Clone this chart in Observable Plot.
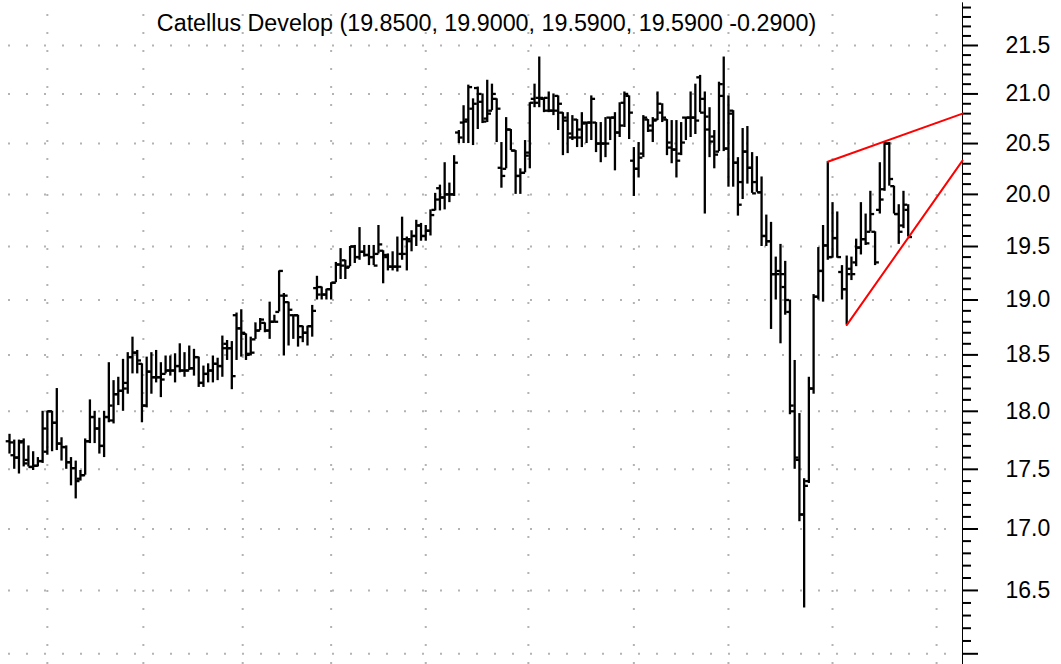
<!DOCTYPE html>
<html><head><meta charset="utf-8">
<script src="https://cdn.jsdelivr.net/npm/d3@7"></script>
<script src="https://cdn.jsdelivr.net/npm/@observablehq/plot@0.6"></script>
<style>
html,body{margin:0;padding:0;background:#fff;}
#chart svg{display:block;}
</style></head><body><div id="chart"></div>
<script>
const title = "Catellus Develop (19.8500, 19.9000, 19.5900, 19.5900 -0.2900)";

const opens = [
17.74,17.62,17.60,17.74,17.58,17.52,17.53,17.57,17.65,18.00,
17.90,17.72,17.69,17.56,17.51,17.42,17.45,17.74,17.95,17.85,
17.70,17.95,17.92,18.15,18.18,18.25,18.48,18.52,18.42,18.05,
18.35,18.30,18.30,18.33,18.36,18.36,18.40,18.36,18.36,18.38,
18.48,18.25,18.33,18.36,18.42,18.40,18.60,18.56,18.86,18.74,
18.69,18.51,18.64,18.72,18.79,18.72,18.80,18.89,19.04,18.98,
18.86,18.86,18.76,18.70,18.76,19.11,19.12,19.05,19.10,19.16,
19.33,19.37,19.31,19.50,19.40,19.45,19.42,19.40,19.43,19.46,
19.40,19.31,19.31,19.43,19.57,19.55,19.60,19.70,19.60,19.65,
19.85,20.06,19.97,20.00,20.00,20.61,20.71,20.74,20.85,21.06,
20.92,20.75,20.83,20.95,20.26,20.25,20.64,20.43,20.18,20.21,
20.41,20.95,20.96,20.95,20.83,20.83,20.98,20.81,20.73,20.56,
20.74,20.56,20.71,20.71,20.71,20.50,20.50,20.76,20.76,20.61,
20.91,20.98,20.33,20.25,20.40,20.74,20.63,20.74,20.81,20.74,
20.46,20.44,20.40,20.76,20.76,20.76,21.17,20.95,20.64,20.57,
20.42,20.98,20.45,20.83,20.31,20.12,20.42,20.26,20.12,20.02,
19.60,19.55,19.24,19.27,19.12,18.89,18.00,17.58,17.12,17.40,
18.20,19.03,19.27,19.51,19.40,19.58,19.26,19.10,19.29,19.35,
19.49,19.57,19.64,19.64,19.85,20.05,20.50,20.08,19.81,19.70,
19.85];

const highs = [
17.80,17.75,17.75,17.76,17.70,17.65,17.60,18.00,18.00,18.00,
18.20,17.77,17.70,17.60,17.57,17.49,17.76,18.10,18.00,17.94,
18.00,18.43,18.27,18.30,18.46,18.52,18.66,18.54,18.42,18.48,
18.52,18.54,18.43,18.49,18.49,18.51,18.60,18.52,18.58,18.55,
18.48,18.40,18.42,18.49,18.47,18.67,18.63,18.62,18.88,18.91,
18.69,18.66,18.79,18.83,18.79,18.98,18.86,19.27,19.06,18.98,
18.86,18.86,18.76,18.76,18.95,19.22,19.12,19.10,19.16,19.35,
19.48,19.37,19.50,19.51,19.68,19.51,19.51,19.51,19.70,19.46,
19.43,19.45,19.59,19.78,19.59,19.65,19.75,19.72,19.70,19.85,
20.01,20.09,20.31,20.11,20.38,20.63,20.88,21.09,20.95,21.07,
21.00,21.14,21.10,20.95,20.51,20.76,20.64,20.43,20.25,20.53,
20.91,21.10,21.38,20.96,21.02,21.00,20.98,20.81,20.81,20.78,
20.74,20.81,20.71,20.98,20.71,20.71,20.76,20.76,20.81,20.91,
21.02,20.98,20.46,20.51,20.78,20.74,20.76,21.02,20.90,20.74,
20.73,20.73,20.71,20.76,21.02,21.10,21.19,21.02,20.86,20.63,
21.12,21.38,20.98,20.83,20.36,20.65,20.67,20.41,20.37,20.17,
19.80,19.73,19.40,19.52,19.36,19.00,18.45,17.98,17.42,18.30,
19.05,19.49,19.70,20.32,19.92,19.83,19.32,19.41,19.40,19.57,
19.92,19.81,20.03,19.64,20.31,20.51,20.51,20.08,19.90,20.03,
19.90];

const lows = [
17.63,17.50,17.46,17.52,17.52,17.49,17.52,17.55,17.62,17.65,
17.66,17.57,17.50,17.36,17.25,17.40,17.45,17.72,17.72,17.63,
17.60,17.90,17.89,18.05,18.00,18.15,18.33,18.33,17.90,18.03,
18.15,18.25,18.12,18.33,18.31,18.25,18.34,18.30,18.36,18.31,
18.21,18.21,18.25,18.25,18.27,18.30,18.45,18.19,18.45,18.48,
18.45,18.49,18.64,18.72,18.70,18.64,18.79,18.89,18.49,18.58,
18.64,18.57,18.61,18.58,18.66,19.00,19.00,19.00,19.00,19.16,
19.19,19.19,19.31,19.34,19.37,19.40,19.32,19.32,19.43,19.15,
19.27,19.27,19.26,19.37,19.27,19.45,19.50,19.55,19.55,19.60,
19.84,19.84,19.85,19.92,19.98,20.50,20.50,20.50,20.48,20.64,
20.70,20.71,20.83,20.51,20.06,20.25,20.43,20.00,20.00,20.21,
20.25,20.86,20.86,20.81,20.81,20.78,20.63,20.38,20.40,20.53,
20.46,20.46,20.50,20.53,20.41,20.31,20.36,20.53,20.23,20.56,
20.66,20.54,19.98,20.16,20.36,20.61,20.51,20.73,20.71,20.38,
20.30,20.16,20.38,20.53,20.56,20.59,20.81,19.81,20.36,20.25,
20.42,20.42,20.07,20.07,19.79,19.95,20.10,20.01,20.02,19.50,
19.50,18.73,19.00,18.60,18.86,17.97,17.50,17.06,16.36,17.38,
18.15,19.00,18.98,19.37,19.39,19.39,19.00,18.77,19.18,19.31,
19.42,19.51,19.64,19.32,19.81,20.03,20.08,19.81,19.52,19.67,
19.59];

const closes = [
17.73,17.60,17.73,17.55,17.52,17.53,17.57,17.85,18.00,17.90,
17.72,17.69,17.56,17.51,17.40,17.45,17.74,17.95,17.85,17.70,
17.95,18.05,18.15,18.18,18.20,18.48,18.52,18.45,18.05,18.35,
18.30,18.30,18.28,18.36,18.36,18.40,18.36,18.36,18.38,18.48,
18.25,18.33,18.36,18.42,18.40,18.56,18.56,18.31,18.74,18.70,
18.50,18.52,18.72,18.82,18.72,18.80,18.80,19.27,19.04,18.91,
18.86,18.66,18.70,18.76,18.90,19.05,19.05,19.10,19.16,19.33,
19.32,19.30,19.50,19.40,19.45,19.42,19.40,19.32,19.52,19.42,
19.31,19.31,19.31,19.43,19.57,19.60,19.70,19.60,19.65,19.80,
19.95,19.97,20.00,20.00,20.31,20.56,20.72,21.07,20.90,21.00,
20.72,20.80,21.00,20.85,20.18,20.64,20.43,20.18,20.21,20.38,
20.91,20.91,20.96,20.96,20.83,20.83,20.90,20.76,20.60,20.56,
20.64,20.70,20.71,20.95,20.50,20.50,20.50,20.76,20.61,20.68,
21.00,20.81,20.25,20.36,20.76,20.68,20.73,20.90,20.76,20.51,
20.44,20.33,20.51,20.76,20.76,20.73,20.81,20.77,20.52,20.39,
21.10,20.45,20.80,20.31,19.90,20.42,20.26,20.01,20.02,19.60,
19.55,19.24,19.24,19.24,19.00,18.05,17.60,17.12,17.36,18.20,
19.03,19.27,19.51,19.40,19.58,19.40,19.10,19.24,19.24,19.49,
19.57,19.53,19.81,19.35,19.95,20.50,20.15,19.81,19.64,19.90,
19.59];

// bar index of each month boundary (vertical grid)
const monthStarts = [8, 28.3, 49.3, 68, 88, 109.7, 132, 152, 174, 196];
// price axis
const gridValues = [16.0,16.5,17.0,17.5,18.0,18.5,19.0,19.5,20.0,20.5,21.0,21.5];
const tickLabels = ["", "16.5","17.0","17.5","18.0","18.5","19.0","19.5","20.0","20.5","21.0","21.5"];
const minorTicks = d3.range(160, 220).map(v => v / 10).filter(v => Math.round(v * 10) % 5 !== 0);
// drawn trend lines (bar index, price)
const upperTrend = [{i: 173, p: 20.32}, {i: 201.48, p: 20.80}];
const lowerTrend = [{i: 177, p: 18.77}, {i: 201.48, p: 20.33}];

const bars = opens.map((o, i) => ({i, open: o, high: highs[i], low: lows[i], close: closes[i]}));
const labelOf = new Map(gridValues.map((v, k) => [v, tickLabels[k]]));
const xEnd = 201.48;
const tickLen = 0.8;
const gridStyle = {stroke: "#b3b3b3", strokeWidth: 2, strokeDasharray: "2,16"};
const barStyle = {stroke: "#000", strokeWidth: 2.3};

const chart = Plot.plot({
  width: 1061, height: 664,
  marginLeft: 0, marginRight: 99, marginTop: 0, marginBottom: 0,
  style: {fontFamily: "'Liberation Sans', Arial, sans-serif", fontSize: "23px", background: "#fff", color: "#000"},
  x: {domain: [-1.903, xEnd], axis: null},
  y: {type: "log", domain: [15.917, 21.975], axis: null},
  marks: [
    Plot.ruleY(gridValues, {...gridStyle, strokeDashoffset: 10}),
    Plot.ruleX(monthStarts, {...gridStyle, strokeDashoffset: 4}),
    Plot.ruleX([xEnd], {stroke: "#000", strokeWidth: 1, y1: 21.95, y2: 15.917}),
    Plot.axisY(minorTicks, {anchor: "right", tickSize: 8, tickFormat: () => "", label: null, strokeWidth: 2}),
    Plot.axisY(gridValues, {anchor: "right", tickSize: 15, tickPadding: 28, tickFormat: d => labelOf.get(d), label: null, strokeWidth: 2, fontSize: 23}),
    Plot.ruleX(bars, {x: "i", y1: "low", y2: "high", ...barStyle}),
    Plot.link(bars, {x1: d => d.i - tickLen, x2: "i", y1: "open", y2: "open", ...barStyle}),
    Plot.link(bars, {x1: "i", x2: d => d.i + tickLen, y1: "close", y2: "close", ...barStyle}),
    Plot.line(upperTrend, {x: "i", y: "p", stroke: "#ff0000", strokeWidth: 2}),
    Plot.line(lowerTrend, {x: "i", y: "p", stroke: "#ff0000", strokeWidth: 2}),
    Plot.text([title], {frameAnchor: "top", dx: 5, dy: 23, lineAnchor: "middle", fontSize: 23.3, fill: "#000"})
  ]
});
document.getElementById("chart").appendChild(chart);
</script></body></html>
